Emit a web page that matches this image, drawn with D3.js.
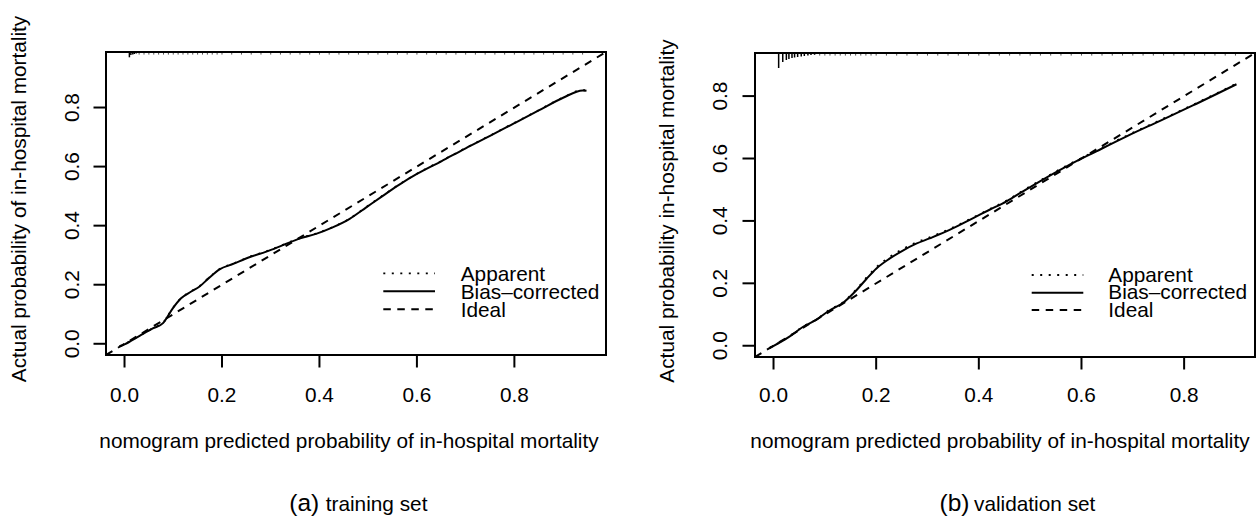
<!DOCTYPE html>
<html>
<head>
<meta charset="utf-8">
<script src="https://cdn.jsdelivr.net/npm/d3@7"></script>
<style>
  html, body { margin: 0; padding: 0; background: #fff; }
  svg { display: block; }
  text { font-family: "Liberation Sans", Arial, Helvetica, sans-serif; fill: #000; }
</style>
</head>
<body>
<svg id="chart" width="1257" height="517"></svg>
<script>
// ---------------- data ----------------
const xTicks = [0, 0.2, 0.4, 0.6, 0.8];
const yTicks = [0, 0.2, 0.4, 0.6, 0.8];
const legendLabels = ["Apparent", "Bias\u2013corrected", "Ideal"];
const xTitle = "nomogram predicted probability of in-hospital mortality";
const yTitleTrain = "Actual probability of in-hospital mortality";
const yTitleValid = "Actual probability in-hospital mortality";
const captionTags = ["(a)", "(b)"];
const captionTexts = ["training set", "validation set"];

// range of predicted probabilities (axis limits before R's 4% extension)
const trainRange = [0, 0.95];
const validRange = [0, 0.902];

// training set calibration curves
const trainPred = [-0.010, 0.000, 0.031, 0.058, 0.079, 0.099, 0.116, 0.137, 0.154, 0.174, 0.195, 0.222, 0.256, 0.291, 0.325, 0.359, 0.393, 0.427, 0.462, 0.496, 0.530, 0.564, 0.600, 0.650, 0.700, 0.750, 0.800, 0.850, 0.900, 0.940, 0.948];
const trainBias = [-0.009, -0.002, 0.027, 0.052, 0.070, 0.120, 0.154, 0.177, 0.194, 0.224, 0.252, 0.270, 0.293, 0.312, 0.334, 0.356, 0.372, 0.394, 0.423, 0.462, 0.501, 0.539, 0.575, 0.618, 0.662, 0.704, 0.747, 0.790, 0.833, 0.858, 0.857];
const trainApp  = [-0.008, -0.001, 0.028, 0.053, 0.071, 0.121, 0.155, 0.178, 0.195, 0.225, 0.253, 0.271, 0.294, 0.313, 0.335, 0.357, 0.373, 0.395, 0.424, 0.463, 0.502, 0.540, 0.576, 0.619, 0.663, 0.705, 0.748, 0.791, 0.834, 0.859, 0.858];

// validation set calibration curves
const validPred = [-0.008, 0.031, 0.057, 0.083, 0.109, 0.135, 0.161, 0.181, 0.200, 0.226, 0.252, 0.278, 0.304, 0.343, 0.389, 0.420, 0.454, 0.486, 0.519, 0.571, 0.629, 0.688, 0.752, 0.817, 0.902];
const validBias = [-0.008, 0.029, 0.060, 0.083, 0.113, 0.137, 0.177, 0.214, 0.247, 0.279, 0.305, 0.327, 0.344, 0.371, 0.409, 0.435, 0.463, 0.495, 0.527, 0.575, 0.623, 0.671, 0.720, 0.770, 0.838];
const validApp  = [-0.007, 0.030, 0.061, 0.084, 0.115, 0.139, 0.180, 0.218, 0.251, 0.284, 0.310, 0.331, 0.347, 0.374, 0.411, 0.437, 0.465, 0.497, 0.529, 0.577, 0.625, 0.673, 0.722, 0.772, 0.840];

// histogram of predictions (rug spikes on top), counts
const trainRugX = [0.010, 0.013, 0.017, 0.020, 0.024];
const trainRugN = [5.3, 3, 2.5, 2, 1.6];
const trainTailX = [0.03,0.04,0.05,0.06,0.07,0.08,0.09,0.10,0.11,0.12,0.13,0.14,0.15,0.16,0.17,0.18,0.19,0.20,0.22,0.24,0.26,0.28,0.30,0.32,0.34,0.36,0.38,0.40,0.42,0.44,0.46,0.48,0.50,0.52,0.54,0.56,0.58,0.60,0.62,0.64,0.66,0.68,0.70,0.72,0.74,0.76,0.78,0.80,0.82,0.84,0.86,0.88,0.90,0.92,0.94];
const validRugX = [0.010, 0.018, 0.025, 0.030, 0.036, 0.041, 0.047, 0.054, 0.060, 0.067, 0.073, 0.080];
const validRugN = [15, 9, 7, 6, 5, 4.5, 4, 3.5, 3, 2.5, 2, 1.8];
const validTailX = [0.09,0.10,0.11,0.12,0.13,0.14,0.15,0.16,0.17,0.18,0.19,0.20,0.22,0.24,0.26,0.28,0.30,0.32,0.34,0.36,0.38,0.40,0.42,0.44,0.46,0.48,0.50,0.52,0.54,0.56,0.58,0.60,0.62,0.64,0.66,0.68,0.70,0.72,0.74,0.76,0.78,0.80,0.82,0.84,0.86,0.88,0.90];

// ---------------- layout ----------------
const panels = [
  { box: {x0: 106, x1: 606, y0: 52, y1: 355}, range: trainRange,
    pred: trainPred, bias: trainBias, app: trainApp,
    rugX: trainRugX, rugN: trainRugN, tailX: trainTailX,
    yTitle: yTitleTrain, yTitleX: 25.5, yTitleY: 199, yTickX: 78.5,
    xTitleX: 349, xTickBase: 401.7, xTitleBase: 448.3,
    legend: {lx0: 383.3, lx1: 435, tx: 460.7, ly: [273.3, 291.3, 309.3], ty: [280.7, 298.6, 316.5]},
    cap: {tagX: 289.3, textX: 325.7, base: 510.5} },
  { box: {x0: 755, x1: 1255, y0: 53, y1: 357}, range: validRange,
    pred: validPred, bias: validBias, app: validApp,
    rugX: validRugX, rugN: validRugN, tailX: validTailX,
    yTitle: yTitleValid, yTitleX: 673.5, yTitleY: 211, yTickX: 726.5,
    xTitleX: 1000, xTickBase: 401.7, xTitleBase: 448.3,
    legend: {lx0: 1031.7, lx1: 1083.3, tx: 1108.3, ly: [275, 292.7, 310], ty: [281.7, 299.4, 317.3]},
    cap: {tagX: 939.5, textX: 974, base: 510.5} }
];

const FS = 20.8;
const TICK = 12.5;
const dashIdeal = "7.5,6.5";
const dotApp = "2,6.5";

const svg = d3.select("#chart");

panels.forEach((p, i) => {
  const b = p.box;
  const ext = 0.04 * (p.range[1] - p.range[0]);
  const lim = [p.range[0] - ext, p.range[1] + ext];
  const x = d3.scaleLinear().domain(lim).range([b.x0, b.x1]);
  const y = d3.scaleLinear().domain(lim).range([b.y1, b.y0]);
  const g = svg.append("g");

  const clipId = "clip" + i;
  svg.append("clipPath").attr("id", clipId)
    .append("rect").attr("x", b.x0).attr("y", b.y0)
    .attr("width", b.x1 - b.x0).attr("height", b.y1 - b.y0);

  const plot = g.append("g").attr("clip-path", `url(#${clipId})`);

  // Ideal line y = x
  plot.append("line")
    .attr("x1", x(lim[0])).attr("y1", y(lim[0]))
    .attr("x2", x(lim[1])).attr("y2", y(lim[1]))
    .attr("stroke", "#000").attr("stroke-width", 2)
    .attr("stroke-dasharray", dashIdeal);

  const line = d3.line().x(d => x(d[0])).y(d => y(d[1])).curve(d3.curveMonotoneX);

  // Apparent (dotted)
  plot.append("path")
    .attr("d", line(p.pred.map((v, k) => [v, p.app[k]])))
    .attr("fill", "none").attr("stroke", "#000").attr("stroke-width", 1.8)
    .attr("stroke-dasharray", dotApp);

  // Bias-corrected (solid)
  plot.append("path")
    .attr("d", line(p.pred.map((v, k) => [v, p.bias[k]])))
    .attr("fill", "none").attr("stroke", "#000").attr("stroke-width", 2);

  // rug spikes at top
  const hScale = d3.scaleLinear().domain([0, 1]).range([0, 1]);
  plot.selectAll("line.rug").data(p.rugX.map((v, k) => [v, p.rugN[k]]))
    .enter().append("line")
    .attr("x1", d => x(d[0])).attr("x2", d => x(d[0]))
    .attr("y1", b.y0).attr("y2", d => b.y0 + hScale(d[1]))
    .attr("stroke", "#000").attr("stroke-width", 1.5);
  plot.selectAll("line.tail").data(p.tailX)
    .enter().append("line")
    .attr("x1", d => x(d)).attr("x2", d => x(d))
    .attr("y1", b.y0).attr("y2", b.y0 + hScale(2.6))
    .attr("stroke", "#555").attr("stroke-width", 1);

  // box
  g.append("rect")
    .attr("x", b.x0).attr("y", b.y0)
    .attr("width", b.x1 - b.x0).attr("height", b.y1 - b.y0)
    .attr("fill", "none").attr("stroke", "#000").attr("stroke-width", 2);

  // x axis ticks
  g.selectAll("line.xt").data(xTicks).enter().append("line")
    .attr("x1", d => x(d)).attr("x2", d => x(d))
    .attr("y1", b.y1).attr("y2", b.y1 + TICK)
    .attr("stroke", "#000").attr("stroke-width", 2);
  g.selectAll("text.xt").data(xTicks).enter().append("text")
    .attr("x", d => x(d)).attr("y", p.xTickBase)
    .attr("text-anchor", "middle").attr("font-size", FS)
    .text(d => d3.format(".1f")(d));

  // y axis ticks
  g.selectAll("line.yt").data(yTicks).enter().append("line")
    .attr("x1", b.x0 - TICK).attr("x2", b.x0)
    .attr("y1", d => y(d)).attr("y2", d => y(d))
    .attr("stroke", "#000").attr("stroke-width", 2);
  g.selectAll("text.yt").data(yTicks).enter().append("text")
    .attr("transform", d => `translate(${p.yTickX},${y(d)}) rotate(-90)`)
    .attr("text-anchor", "middle").attr("font-size", FS)
    .text(d => d3.format(".1f")(d));

  // axis titles
  g.append("text")
    .attr("x", p.xTitleX).attr("y", p.xTitleBase)
    .attr("text-anchor", "middle").attr("font-size", FS)
    .text(xTitle);
  g.append("text")
    .attr("transform", `translate(${p.yTitleX},${p.yTitleY}) rotate(-90)`)
    .attr("text-anchor", "middle").attr("font-size", FS)
    .text(p.yTitle);

  // legend
  const L = p.legend;
  const styles = [dotApp, null, dashIdeal];
  legendLabels.forEach((lab, k) => {
    const ln = g.append("line")
      .attr("x1", L.lx0).attr("x2", L.lx1)
      .attr("y1", L.ly[k]).attr("y2", L.ly[k])
      .attr("stroke", "#000").attr("stroke-width", k === 0 ? 1.8 : 2);
    if (styles[k]) ln.attr("stroke-dasharray", styles[k]);
    g.append("text")
      .attr("x", L.tx).attr("y", L.ty[k])
      .attr("font-size", FS).text(lab);
  });

  // caption
  g.append("text")
    .attr("x", p.cap.tagX).attr("y", p.cap.base)
    .attr("font-size", 24.5).text(captionTags[i]);
  g.append("text")
    .attr("x", p.cap.textX).attr("y", p.cap.base)
    .attr("font-size", FS).text(captionTexts[i]);
});
</script>
</body>
</html>
